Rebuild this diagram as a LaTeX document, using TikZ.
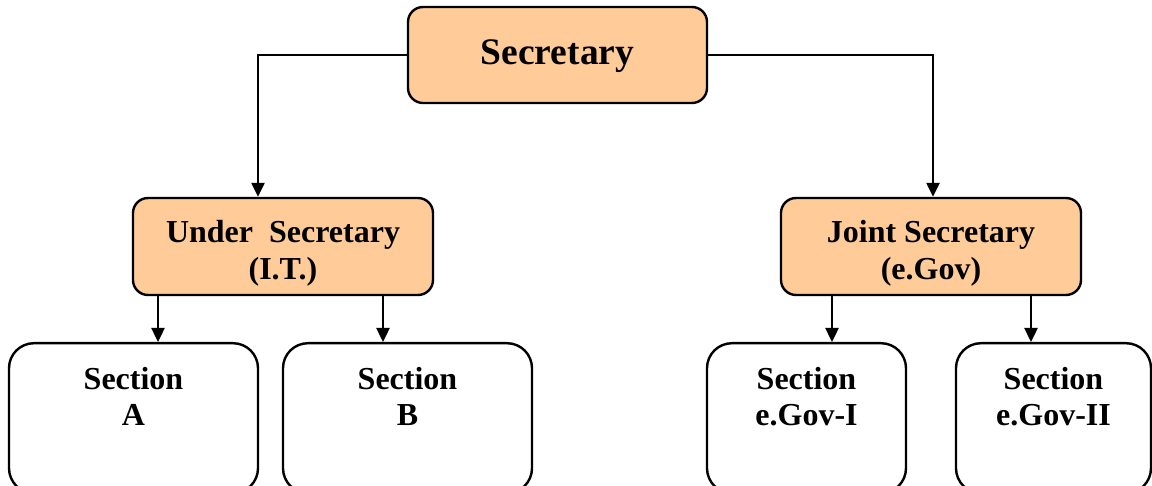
\documentclass[tikz,border=0pt]{standalone}
\usepackage{fontspec}
\setmainfont{Liberation Serif}
\usetikzlibrary{arrows.meta}
\definecolor{peach}{HTML}{FFCC99}
\begin{document}
\begin{tikzpicture}[x=1pt,y=-1pt,
  mgr/.style={draw=black, line width=2.4pt, rounded corners=15pt, fill=peach, inner sep=0pt},
  secbox/.style={draw=black, line width=2.4pt, rounded corners=25pt, inner sep=0pt},
  lbl/.style={font=\bfseries\fontsize{32}{36}\selectfont, align=center, inner sep=0pt},
  arr/.style={line width=2.4pt, -{Triangle[width=13pt,length=14pt]}}]
\useasboundingbox (0,0) rectangle (1152,486);
% managers
\node[mgr, minimum width=299pt, minimum height=96pt] (sec) at (557.5,55) {};
\node[mgr, minimum width=300pt, minimum height=97pt] (us) at (283,246.5) {};
\node[mgr, minimum width=300pt, minimum height=97pt] (js) at (931,246.5) {};
\node[lbl, font=\bfseries\fontsize{37.5}{40}\selectfont] (sect) at ([yshift=-1pt]sec.center) {Secretary};
\node[lbl, font=\bfseries\fontsize{32}{37}\selectfont] (ust) at ([yshift=-7pt]us.center) {Under\ \ Secretary\\(I.T.)};
\node[lbl, font=\bfseries\fontsize{32}{37}\selectfont] (jst) at ([yshift=-7pt]js.center) {Joint Secretary\\(e.Gov)};
% sections
\node[secbox, minimum width=249pt, minimum height=150pt, anchor=north] (sa) at (133.5,342) {};
\node[secbox, minimum width=249pt, minimum height=150pt, anchor=north] (sb) at (407.5,342) {};
\node[secbox, minimum width=199pt, minimum height=150pt, anchor=north] (sc) at (806.5,342) {};
\node[secbox, minimum width=195pt, minimum height=150pt, anchor=north] (sd) at (1053.5,342) {};
\node[lbl, anchor=north] (ta) at ([yshift=-25pt]sa.north) {Section\\A};
\node[lbl, anchor=north] (tb) at ([yshift=-25pt]sb.north) {Section\\B};
\node[lbl, anchor=north] (tc) at ([yshift=-25pt]sc.north) {Section\\e.Gov-I};
\node[lbl, anchor=north] (td) at ([yshift=-25pt]sd.north) {Section\\e.Gov-II};
% connectors
\draw[arr] (sec.west) -| ([xshift=-25pt]us.north);
\draw[arr] (sec.east) -| ([xshift=2pt]js.north);
\draw[arr] ([xshift=-125pt]us.south) -- ([xshift=-125pt]us.south |- sa.north);
\draw[arr] ([xshift=100pt]us.south) -- ([xshift=100pt]us.south |- sb.north);
\draw[arr] ([xshift=-99pt]js.south) -- ([xshift=-99pt]js.south |- sc.north);
\draw[arr] ([xshift=100pt]js.south) -- ([xshift=100pt]js.south |- sd.north);
\end{tikzpicture}
\end{document}
